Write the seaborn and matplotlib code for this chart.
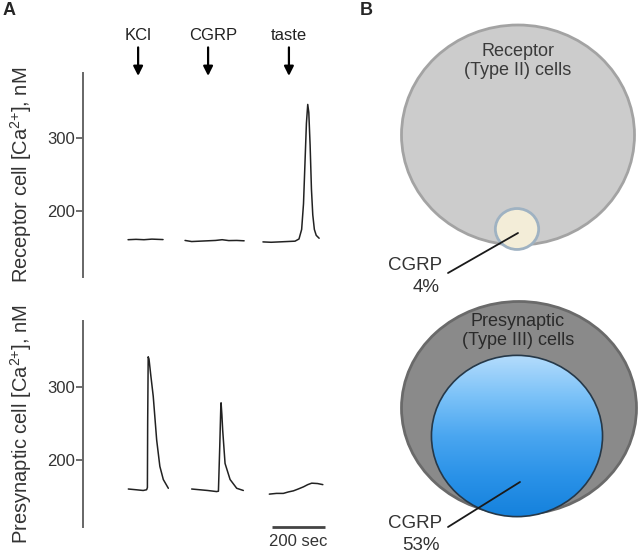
import numpy as np
import pandas as pd
import matplotlib
matplotlib.use('Agg')
import matplotlib.pyplot as plt
import seaborn as sns
from matplotlib.patches import Ellipse

# ---- data -----------------------------------------------------------------
# time in sec, [Ca2+] in nM; one segment per stimulus (KCl, CGRP, taste)
rec_kcl_t = [170, 200, 230, 260, 302]
rec_kcl_ca = [161, 161.5, 161, 161.8, 161.2]
rec_cgrp_t = [385, 410, 440, 470, 500, 525, 550, 580, 608]
rec_cgrp_ca = [160, 158.5, 159, 159.5, 160, 161, 159.8, 160, 159.5]
rec_taste_t = [679, 710, 740, 770, 800, 815, 825, 832, 838, 843, 848,
               852, 857, 862, 867, 873, 880, 891]
rec_taste_ca = [158, 157.5, 158, 158.5, 159, 162, 175, 210, 270, 320, 346,
                335, 290, 230, 195, 175, 167, 163]

pre_kcl_t = [171, 200, 227, 240, 243, 244, 246, 249, 256, 265, 278, 290, 303, 322]
pre_kcl_ca = [160, 159, 158, 159, 162, 250, 341, 338, 315, 287, 227, 191, 173, 161]
pre_cgrp_t = [410, 440, 470, 504, 511, 516, 520, 521, 524, 527, 536, 555, 580, 605]
pre_cgrp_ca = [160, 159, 158, 156.5, 157, 218, 273, 278, 262, 241, 195, 173, 161, 158]
pre_taste_t = [703, 730, 756, 775, 794, 812, 832, 848, 863, 885, 905]
pre_taste_ca = [153, 154, 154, 156, 157.5, 160, 163, 166, 168, 167.5, 166]

stimuli = ['KCl', 'CGRP', 'taste']
stim_times = [208, 472, 777]

pct_receptor = 4
pct_presyn = 53


def trace_frame(ts, cas):
    parts = []
    for i, (t, c) in enumerate(zip(ts, cas)):
        parts.append(pd.DataFrame({'t': t, 'ca': c, 'seg': i}))
    return pd.concat(parts, ignore_index=True)


rec_df = trace_frame([rec_kcl_t, rec_cgrp_t, rec_taste_t],
                     [rec_kcl_ca, rec_cgrp_ca, rec_taste_ca])
pre_df = trace_frame([pre_kcl_t, pre_cgrp_t, pre_taste_t],
                     [pre_kcl_ca, pre_cgrp_ca, pre_taste_ca])

sns.set_style('white')
plt.rcParams['font.family'] = ['Liberation Sans', 'DejaVu Sans']
plt.rcParams['mathtext.fontset'] = 'custom'
plt.rcParams['mathtext.rm'] = 'Liberation Sans'
plt.rcParams['mathtext.it'] = 'Liberation Sans:italic'
plt.rcParams['mathtext.bf'] = 'Liberation Sans:bold'

W, H = 640, 553
fig = plt.figure(figsize=(6.4, 5.53), dpi=100)


def px_axes(x0, y0, x1, y1):
    return fig.add_axes([x0 / W, 1 - y1 / H, (x1 - x0) / W, (y1 - y0) / H])


def style_trace_axes(ax, ylim):
    ax.set_xlim(0, 932)
    ax.set_ylim(*ylim)
    for s in ['top', 'right', 'bottom']:
        ax.spines[s].set_visible(False)
    ax.spines['left'].set_color('#666666')
    ax.spines['left'].set_linewidth(1.4)
    ax.set_xticks([])
    ax.set_yticks([200, 300])
    ax.tick_params(axis='y', direction='out', length=5, width=1.2,
                   color='#555555', labelsize=12, labelcolor='#333333', pad=1,
                   left=True)
    ax.set_xlabel('')
    ax.patch.set_alpha(0)


ylab = r'{} [Ca$^{{\mathrm{{2{{+}}}}}}$], nM'

# ---- panel A, receptor cell -------------------------------------------------
ax1 = px_axes(83, 73, 330, 277)
sns.lineplot(data=rec_df, x='t', y='ca', units='seg', estimator=None,
             color='#222222', lw=1.1, ax=ax1)
style_trace_axes(ax1, (110, 389))
ax1.set_ylabel(ylab.format('Receptor cell'), fontsize=14.5, color='#333333',
               labelpad=9)

for name, t in zip(stimuli, stim_times):
    ax1.annotate('', xy=(t, 385), xytext=(t, 424), annotation_clip=False,
                 arrowprops=dict(arrowstyle='-|>', color='black', lw=1.6,
                                 mutation_scale=14, shrinkA=0, shrinkB=0))
    ax1.text(t + (20 if name == 'CGRP' else 0), 430, name, ha='center',
             va='bottom', fontsize=12, color='#222222', clip_on=False)

# ---- panel A, presynaptic cell ---------------------------------------------
ax2 = px_axes(83, 321, 330, 527)
sns.lineplot(data=pre_df, x='t', y='ca', units='seg', estimator=None,
             color='#222222', lw=1.1, ax=ax2)
style_trace_axes(ax2, (108, 390))
ax2.set_ylabel(ylab.format('Presynaptic cell'), fontsize=14.5,
               color='#333333', labelpad=9)

# 200 s scale bar
ax2.plot([713, 913], [108, 108], color='#444444', lw=2, clip_on=False,
         solid_capstyle='butt')
ax2.text(813, 99, '200 sec', ha='center', va='top', fontsize=12,
         color='#333333', clip_on=False)

# ---- panel B, Venn-like circles ------------------------------------------
axb = fig.add_axes([340 / W, 0, 300 / W, 1])
axb.set_xlim(340, 640)
axb.set_ylim(553, 0)
axb.axis('off')

# receptor cells
outer1 = Ellipse((518, 135), 233, 220, facecolor='#cccccc',
                 edgecolor='#a3a3a3', lw=2)
axb.add_patch(outer1)
r1 = np.sqrt(pct_receptor / 100)
inner1 = Ellipse((517, 229), 233 * r1 * 0.93, 220 * r1 * 0.93,
                 facecolor='#f3edd8', edgecolor='#9fb2c2', lw=2)
axb.add_patch(inner1)
axb.text(518, 61, 'Receptor\n(Type II) cells', ha='center', va='center',
         fontsize=13, color='#3a3a3a', linespacing=1.1)
axb.plot([448, 518], [273, 233], color='#1a1a1a', lw=1.3)
axb.text(442, 266, 'CGRP', ha='right', va='center', fontsize=13.5,
         color='#333333')
axb.text(440, 288, f'{pct_receptor}%', ha='right', va='center',
         fontsize=13.5, color='#333333')

# presynaptic cells
outer2 = Ellipse((519, 408), 235, 213, facecolor='#8a8a8a',
                 edgecolor='#6a6a6a', lw=2)
axb.add_patch(outer2)
r2 = np.sqrt(pct_presyn / 100)
cx, cy, bw, bh = 517, 436, 235 * r2, 213 * r2 * 1.04
inner2 = Ellipse((cx, cy), bw, bh, facecolor='none', edgecolor='#263848',
                 lw=1.2, zorder=3)
axb.add_patch(inner2)
grad = np.linspace(0, 1, 256).reshape(-1, 1)
blue = matplotlib.colors.LinearSegmentedColormap.from_list(
    'b', ['#b4dcfc', '#7cc2f8', '#4aa6f0', '#2a92e8', '#1581dc'])
img = axb.imshow(grad, cmap=blue, aspect='auto', zorder=2,
                 extent=(cx - bw / 2, cx + bw / 2, cy + bh / 2, cy - bh / 2))
clip = Ellipse((cx, cy), bw, bh, transform=axb.transData)
img.set_clip_path(clip)
axb.set_xlim(340, 640)
axb.set_ylim(553, 0)
axb.text(518, 331, 'Presynaptic\n(Type III) cells', ha='center',
         va='center', fontsize=13, color='#2a2a2a', linespacing=1.1)
axb.plot([448, 520], [527, 482], color='#1a1a1a', lw=1.3, zorder=4)
axb.text(442, 523, 'CGRP', ha='right', va='center', fontsize=13.5,
         color='#333333')
axb.text(440, 545, f'{pct_presyn}%', ha='right', va='center', fontsize=13.5,
         color='#333333')

fig.text(3 / W, 1 - 2 / H, 'A', fontsize=13, fontweight='bold', va='top')
fig.text(360 / W, 1 - 2 / H, 'B', fontsize=13, fontweight='bold', va='top')

fig.savefig('out.png', dpi=100)
